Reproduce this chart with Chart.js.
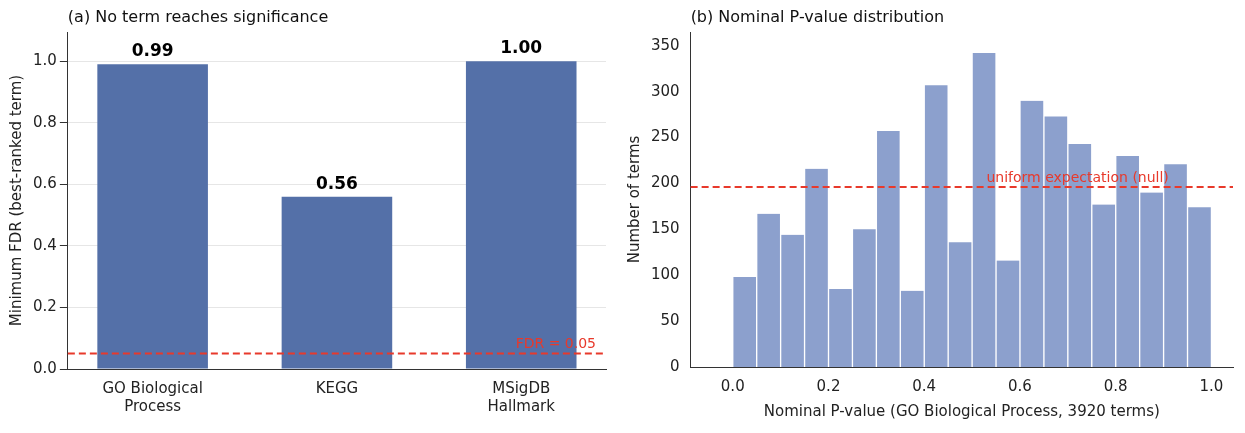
<!DOCTYPE html>
<html lang="en">
<head>
<meta charset="UTF-8">
<title>FDR and P-value</title>
<script src="https://cdn.jsdelivr.net/npm/chart.js"></script>
<style>
    body { margin: 0; background: #fff; font-family: "DejaVu Sans", sans-serif; }
    .panel { position: absolute; top: 0; height: 433px; }
    #left { left: 0; width: 622px; }
    #right { left: 622px; width: 623px; }
</style>
</head>
<body>
<div class="panel" id="left"><canvas id="fdrChart"></canvas></div>
<div class="panel" id="right"><canvas id="histChart"></canvas></div>
<script>
const collections = ['GO Biological|Process', 'KEGG', 'MSigDB|Hallmark'];
const minFdr = [0.99, 0.56, 1.00];
const binCenters = [0.025,0.075,0.125,0.175,0.225,0.275,0.325,0.375,0.425,0.475,0.525,0.575,0.625,0.675,0.725,0.775,0.825,0.875,0.925,0.975];
const binCounts = [98,167,144,216,85,150,257,83,307,136,342,116,290,273,243,177,230,190,221,174];
const fdrCut = 0.05;
const uniformExpect = 196;

Chart.defaults.font.family = '"DejaVu Sans", sans-serif';
Chart.defaults.color = '#222';
Chart.defaults.animation = false;

function hline(value, label, labelX, align) {
    return {
        id: 'hline',
        afterDatasetsDraw(chart) {
            const { ctx, chartArea, scales } = chart;
            const y = scales.y.getPixelForValue(value);
            ctx.save();
            ctx.strokeStyle = '#e8392b';
            ctx.lineWidth = 2;
            ctx.setLineDash([7, 4]);
            ctx.beginPath();
            ctx.moveTo(chartArea.left, y);
            ctx.lineTo(chartArea.right, y);
            ctx.stroke();
            ctx.fillStyle = '#e8392b';
            ctx.font = '14px "DejaVu Sans"';
            ctx.textAlign = align;
            ctx.textBaseline = 'bottom';
            ctx.fillText(label, labelX(chart), y - 2);
            ctx.restore();
        }
    };
}

function titlePlugin(text) {
    return {
        id: 'ptitle',
        afterDraw(chart) {
            const { ctx, chartArea } = chart;
            ctx.save();
            ctx.font = '16px "DejaVu Sans"';
            ctx.fillStyle = '#111';
            ctx.textBaseline = 'bottom';
            ctx.fillText(text, chartArea.left, chartArea.top - 6);
            ctx.restore();
        }
    };
}

const valueLabels = {
    id: 'valueLabels',
    afterDatasetsDraw(chart) {
        const { ctx } = chart;
        const meta = chart.getDatasetMeta(0);
        ctx.save();
        ctx.font = 'bold 17px "DejaVu Sans"';
        ctx.textAlign = 'center';
        ctx.textBaseline = 'bottom';
        ctx.fillStyle = '#000';
        meta.data.forEach((bar, i) => ctx.fillText(minFdr[i].toFixed(2), bar.x, bar.y - 4));
        ctx.restore();
    }
};

const axisStyle = { border: { color: '#333' } };
const tickFont = { font: { size: 15 }, color: '#222' };

new Chart(document.getElementById('fdrChart'), {
    type: 'bar',
    data: {
        datasets: [{
            data: minFdr.map((v, i) => ({ x: i, y: v })),
            backgroundColor: '#5470a8',
            barPercentage: 0.6,
            categoryPercentage: 1
        }]
    },
    options: {
        responsive: true, maintainAspectRatio: false,
        layout: { padding: { top: 32, right: 16, left: 4, bottom: 14 } },
        plugins: { legend: { display: false }, tooltip: { enabled: false } },
        scales: {
            x: {
                type: 'linear', min: -0.46, max: 2.46, offset: false,
                grid: { display: false, drawTicks: true },
                afterBuildTicks(s) { s.ticks = [0, 1, 2].map(v => ({ value: v })); },
                ...axisStyle,
                ticks: { ...tickFont, maxRotation: 0, callback: v => collections[v].split('|') }
            },
            y: {
                min: 0, max: 1.095,
                afterBuildTicks(s) { s.ticks = [0, 0.2, 0.4, 0.6, 0.8, 1.0].map(v => ({ value: v })); },
                grid: { color: '#e6e6e6', tickColor: '#333' },
                ...axisStyle,
                ticks: { ...tickFont, callback: v => v.toFixed(1) },
                title: { display: true, text: 'Minimum FDR (best-ranked term)', font: { size: 15 }, color: '#222' }
            }
        }
    },
    plugins: [valueLabels, hline(fdrCut, 'FDR = 0.05', c => c.chartArea.right - 10, 'right'), titlePlugin('(a) No term reaches significance')]
});

new Chart(document.getElementById('histChart'), {
    type: 'bar',
    data: {
        datasets: [{
            data: binCenters.map((c, i) => ({ x: c, y: binCounts[i] })),
            backgroundColor: '#8ca0cd',
            borderColor: '#ffffff',
            borderWidth: { left: 1, right: 1 },
            barPercentage: 1,
            categoryPercentage: 1
        }]
    },
    options: {
        responsive: true, maintainAspectRatio: false,
        layout: { padding: { top: 32, right: 12, left: 0, bottom: 8 } },
        plugins: { legend: { display: false }, tooltip: { enabled: false } },
        scales: {
            x: {
                type: 'linear', min: -0.088, max: 1.045, offset: false,
                afterBuildTicks(s) { s.ticks = [0, 0.2, 0.4, 0.6, 0.8, 1.0].map(v => ({ value: v })); },
                grid: { display: false, drawTicks: true },
                ...axisStyle,
                ticks: { ...tickFont, maxRotation: 0, callback: v => v.toFixed(1) },
                title: { display: true, text: 'Nominal P-value (GO Biological Process, 3920 terms)', font: { size: 15 }, color: '#222' }
            },
            y: {
                min: 0, max: 365,
                afterBuildTicks(s) { s.ticks = [0, 50, 100, 150, 200, 250, 300, 350].map(v => ({ value: v })); },
                grid: { display: false, drawTicks: true },
                ...axisStyle,
                ticks: tickFont,
                title: { display: true, text: 'Number of terms', font: { size: 15 }, color: '#222' }
            }
        }
    },
    plugins: [hline(uniformExpect, 'uniform expectation (null)', c => c.scales.x.getPixelForValue(0.53), 'left'), titlePlugin('(b) Nominal P-value distribution')]
});
</script>
</body>
</html>
